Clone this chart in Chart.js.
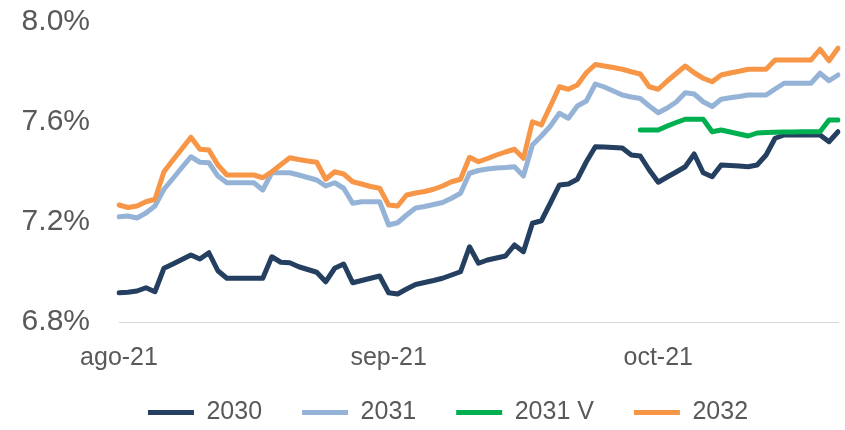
<!DOCTYPE html>
<html>
<head>
<meta charset="utf-8">
<script src="https://cdn.jsdelivr.net/npm/chart.js@4.4.1/dist/chart.umd.min.js"></script>
<style>
  html, body { margin: 0; padding: 0; background: #ffffff; }
  canvas { display: block; }
</style>
</head>
<body>
<canvas id="myChart" width="845" height="430"></canvas>
<script>
// tasas diarias (%), desde el 2 de agosto de 2021
const firstDay = [2021, 7, 2];
const tickDates = ['2021-08-02', '2021-09-01', '2021-10-01'];
const tickLabels = ['ago-21', 'sep-21', 'oct-21'];
const yTicks = [6.8, 7.2, 7.6, 8.0];

const seriesNames = ['2030', '2031', '2031 V', '2032'];
const seriesColors = ['#243F60', '#95B3D7', '#00B050', '#F79646'];

const s2030 = [
  6.917, 6.919, 6.924, 6.937, 6.921, 7.015, 7.032, 7.050, 7.068, 7.052,
  7.077, 7.005, 6.975, 6.975, 6.975, 6.975, 6.975, 7.061, 7.039, 7.037,
  7.021, 7.010, 6.999, 6.961, 7.015, 7.032, 6.957, 6.966, 6.975, 6.984,
  6.917, 6.912, 6.932, 6.950, 6.958, 6.966, 6.975, 6.988, 7.001, 7.101,
  7.035, 7.048, 7.056, 7.064, 7.108, 7.081, 7.195, 7.205, 7.276, 7.348,
  7.352, 7.371, 7.441, 7.501, 7.500, 7.498, 7.496, 7.468, 7.464, 7.408,
  7.359, 7.380, 7.400, 7.421, 7.472, 7.397, 7.381, 7.428, 7.426, 7.424,
  7.421, 7.428, 7.468, 7.535, 7.548, 7.548, 7.548, 7.548, 7.548, 7.521,
  7.561
];
const s2031 = [
  7.221, 7.224, 7.216, 7.236, 7.264, 7.331, 7.374, 7.418, 7.461, 7.439,
  7.437, 7.384, 7.357, 7.357, 7.357, 7.357, 7.328, 7.397, 7.397, 7.397,
  7.388, 7.378, 7.368, 7.344, 7.357, 7.335, 7.275, 7.281, 7.281, 7.281,
  7.188, 7.197, 7.228, 7.256, 7.262, 7.270, 7.278, 7.295, 7.315, 7.395,
  7.406, 7.412, 7.416, 7.418, 7.421, 7.384, 7.508, 7.544, 7.584, 7.635,
  7.615, 7.664, 7.684, 7.752, 7.740, 7.724, 7.708, 7.700, 7.694, 7.664,
  7.637, 7.656, 7.680, 7.717, 7.712, 7.681, 7.662, 7.691, 7.697, 7.702,
  7.708, 7.708, 7.708, 7.732, 7.755, 7.755, 7.755, 7.755, 7.795, 7.765,
  7.788
];
const s2031V = [
  null, null, null, null, null, null, null, null, null, null,
  null, null, null, null, null, null, null, null, null, null,
  null, null, null, null, null, null, null, null, null, null,
  null, null, null, null, null, null, null, null, null, null,
  null, null, null, null, null, null, null, null, null, null,
  null, null, null, null, null, null, null, null, 7.568, 7.568,
  7.568, 7.584, 7.598, 7.611, 7.611, 7.611, 7.561, 7.568, 7.560, 7.552,
  7.544, 7.556, 7.558, 7.559, 7.560, 7.560, 7.561, 7.561, 7.561, 7.608,
  7.608
];
const s2032 = [
  7.268, 7.258, 7.264, 7.281, 7.291, 7.401, 7.448, 7.493, 7.539, 7.491,
  7.488, 7.428, 7.388, 7.388, 7.388, 7.388, 7.377, 7.401, 7.429, 7.457,
  7.450, 7.444, 7.439, 7.371, 7.401, 7.392, 7.361, 7.352, 7.342, 7.335,
  7.268, 7.264, 7.308, 7.316, 7.322, 7.331, 7.344, 7.361, 7.371, 7.459,
  7.441, 7.454, 7.468, 7.480, 7.491, 7.455, 7.601, 7.588, 7.664, 7.741,
  7.731, 7.748, 7.797, 7.830, 7.824, 7.818, 7.811, 7.801, 7.792, 7.741,
  7.731, 7.764, 7.794, 7.824, 7.797, 7.775, 7.761, 7.788, 7.796, 7.803,
  7.811, 7.811, 7.811, 7.848, 7.848, 7.848, 7.848, 7.848, 7.891, 7.845,
  7.895
];

// un rotulo por dia calendario
const days = s2030.map((_, i) => {
  const d = new Date(Date.UTC(firstDay[0], firstDay[1], firstDay[2] + i));
  return d.toISOString().slice(0, 10);
});

const allSeries = [s2030, s2031, s2031V, s2032];
const textColor = '#595959';
const fontFamily = "'Liberation Sans', Arial, sans-serif";

// la leyenda: mas a la derecha, y su caja se estira hacia arriba
const legendShift = {
  id: 'legendShift',
  afterLayout(chart) {
    const lg = chart.legend;
    lg.left += 29; lg.right += 29;
    lg.top -= 20;
  }
};

const ctx = document.getElementById('myChart').getContext('2d');
const myChart = new Chart(ctx, {
  type: 'line',
  data: {
    labels: days,
    datasets: seriesNames.map((name, k) => ({
      label: name,
      data: allSeries[k],
      borderColor: seriesColors[k],
      backgroundColor: seriesColors[k],
      borderWidth: 5,
      borderCapStyle: 'round',
      borderJoinStyle: 'round',
      pointRadius: 0,
      pointHoverRadius: 0,
      tension: 0,
      fill: false,
      order: seriesNames.length - k
    }))
  },
  options: {
    responsive: false,
    animation: false,
    devicePixelRatio: 1,
    layout: { padding: { top: 22, right: 7, left: 0, bottom: 0 } },
    plugins: {
      tooltip: { enabled: false },
      legend: {
        position: 'bottom',
        align: 'center',
        maxHeight: 50,
        labels: {
          usePointStyle: true,
          pointStyle: 'line',
          pointStyleWidth: 46,
          padding: 40,
          color: textColor,
          font: { family: fontFamily, size: 25 },
          sort: (a, b) => a.datasetIndex - b.datasetIndex
        }
      }
    },
    scales: {
      x: {
        type: 'category',
        offset: false,
        grid: { display: true, drawOnChartArea: false, drawTicks: false },
        border: { display: true, color: '#D9D9D9', width: 1 },
        ticks: {
          autoSkip: false,
          maxRotation: 0,
          minRotation: 0,
          padding: 21,
          color: textColor,
          font: { family: fontFamily, size: 25 },
          callback: function (value) {
            const k = tickDates.indexOf(this.getLabelForValue(value));
            return k >= 0 ? tickLabels[k] : '';
          }
        },
        afterFit: (scale) => {
          scale.height = 58;
          scale.paddingLeft = 0;
          scale.paddingRight = 0;
        }
      },
      y: {
        min: yTicks[0],
        max: yTicks[yTicks.length - 1],
        grid: { display: false, drawTicks: false },
        border: { display: false },
        ticks: {
          padding: 29,
          color: textColor,
          font: { family: fontFamily, size: 30 },
          callback: (v) => v.toFixed(1) + '%'
        },
        afterBuildTicks: (scale) => { scale.ticks = yTicks.map(v => ({ value: v })); },
        afterFit: (scale) => {
          scale.width = 119;
          scale.paddingTop = 0;
          scale.paddingBottom = 0;
        }
      }
    }
  },
  plugins: [legendShift]
});
</script>
</body>
</html>
